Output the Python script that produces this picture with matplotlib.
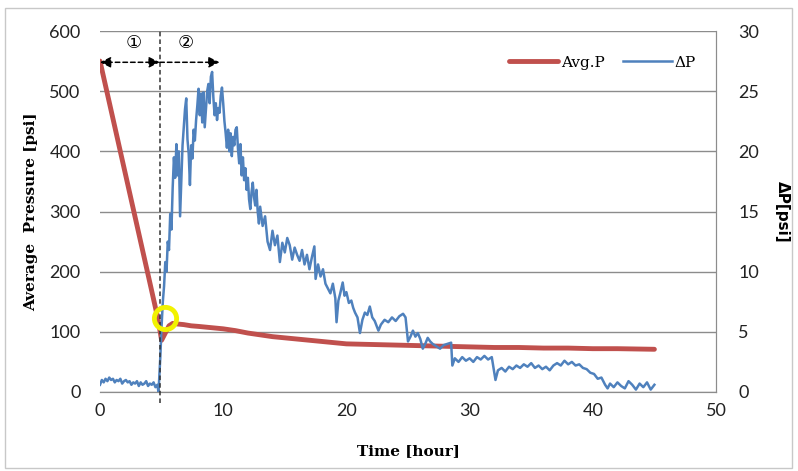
import matplotlib
matplotlib.use("Agg")
import matplotlib.pyplot as plt
from matplotlib.patches import Rectangle

# Average pressure (left axis, psi) vs time (hour)
avg_hours = [0.0, 1.0, 2.0, 3.0, 4.0, 4.7, 5.0, 5.3, 5.6, 5.9, 6.3, 6.8, 7.4, 8.0,
             9.0, 10.0, 11.0, 12.0, 13.0, 14.0, 15.0, 16.0, 17.0, 18.0, 19.0, 20.0,
             22.0, 24.0, 26.0, 28.0, 30.0, 32.0, 34.0, 36.0, 38.0, 40.0, 42.0, 45.0]
avg_p = [550, 459, 368, 277, 186, 122, 86, 98, 110, 114, 113, 112, 110, 109,
         107, 105, 102, 98, 95, 92, 90, 88, 86, 84, 82, 80,
         79, 78, 77, 76, 75, 74, 74, 73, 73, 72, 72, 71]

# Differential pressure (right axis, psi) vs time (hour)
dp_hours = [0.00, 0.15, 0.30, 0.45, 0.60, 0.75, 0.90, 1.05, 1.20, 1.35, 1.50, 1.65,
            1.80, 1.95, 2.10, 2.25, 2.40, 2.55, 2.70, 2.85, 3.00, 3.15, 3.30, 3.45,
            3.60, 3.75, 3.90, 4.05, 4.20, 4.35, 4.50, 4.65, 4.75,
            4.90, 5.00, 5.10, 5.20, 5.30, 5.40, 5.50, 5.60, 5.70, 5.80, 5.90, 6.00,
            6.10, 6.20, 6.30, 6.40, 6.50, 6.60, 6.70, 6.80, 6.90, 7.00, 7.10, 7.20,
            7.30, 7.40, 7.50, 7.60, 7.70, 7.80, 7.90, 8.00, 8.10, 8.20, 8.30, 8.40,
            8.50, 8.60, 8.70, 8.80, 8.90, 9.00, 9.10, 9.20, 9.30, 9.40, 9.50, 9.60,
            9.70, 9.80, 9.90, 10.00, 10.10, 10.20, 10.30, 10.40, 10.50, 10.60, 10.70,
            10.80, 10.90, 11.00, 11.10, 11.20, 11.30, 11.40, 11.50, 11.60, 11.70,
            11.80, 11.90, 12.00, 12.10, 12.20, 12.30, 12.40, 12.50, 12.60, 12.70,
            12.80, 12.90, 13.00, 13.20, 13.40, 13.60, 13.80, 14.00, 14.20, 14.40,
            14.60, 14.80, 15.00, 15.20, 15.40, 15.60, 15.80, 16.00, 16.20, 16.40,
            16.60, 16.80, 17.00, 17.20, 17.40, 17.50, 17.70, 17.90, 18.10, 18.30,
            18.50, 18.70, 18.90, 19.10, 19.20, 19.35, 19.50, 19.70, 19.85, 20.00,
            20.20, 20.40, 20.55, 20.70, 20.90, 21.10, 21.30, 21.50, 21.70, 21.90, 22.10,
            22.30, 22.60, 22.80, 23.10, 23.40, 23.70, 24.00, 24.30, 24.60, 24.80,
            25.00, 25.20, 25.40, 25.60, 25.80, 26.00, 26.20, 26.40, 26.60, 26.80,
            27.00, 27.30, 27.60, 27.90, 28.20, 28.50, 28.60, 28.80, 29.10, 29.40,
            29.70, 30.00, 30.30, 30.60, 30.90, 31.20, 31.50, 31.80, 32.10, 32.30,
            32.60, 32.90, 33.20, 33.50, 33.80, 34.10, 34.40, 34.70, 35.00, 35.30,
            35.60, 35.90, 36.20, 36.50, 36.80, 37.10, 37.40, 37.70, 38.00, 38.30,
            38.60, 38.90, 39.20, 39.50, 39.80, 40.10, 40.40, 40.70, 41.00, 41.20,
            41.40, 41.70, 42.00, 42.30, 42.60, 42.90, 43.20, 43.50, 43.80, 44.10,
            44.40, 44.70, 45.00]
dp_psi = [0.6, 1.0, 0.8, 1.1, 0.9, 1.2, 1.0, 1.1, 0.8, 1.0, 0.9, 1.1,
          0.7, 0.9, 1.0, 0.8, 0.9, 0.6, 0.8, 0.7, 0.9, 0.5, 0.8, 0.6,
          0.7, 0.9, 0.5, 0.7, 0.6, 0.8, 0.4, 0.6, 0.0,
          3.0, 5.5, 7.5, 8.8, 10.8, 10.0, 12.5, 11.8, 14.8, 13.5, 17.0, 19.5,
          17.8, 20.6, 18.0, 20.0, 14.6, 17.5, 20.5, 22.0, 23.5, 24.4, 21.0, 19.8,
          17.2, 20.5, 19.4, 21.8, 20.9, 22.6, 23.8, 25.2, 23.0, 24.8, 22.4, 24.9,
          22.0, 23.5, 25.0, 25.6, 24.0, 26.2, 26.6, 24.5, 23.0, 24.0, 22.6, 23.6,
          23.2, 24.6, 25.3, 24.0, 22.5, 21.5, 20.3, 21.8, 20.0, 21.5, 19.6,
          21.2, 20.5, 21.8, 22.0, 20.2, 19.0, 20.6, 18.0, 19.5, 17.6,
          18.6, 16.8, 17.8, 16.0, 15.2, 16.6, 17.4, 16.2, 15.5, 16.8,
          15.0, 14.0, 15.4, 13.8, 14.6, 12.5, 11.8, 13.4, 12.2, 13.0,
          10.8, 12.4, 11.6, 12.8, 12.2, 11.0, 12.0, 11.4, 10.9, 11.8,
          10.6, 11.4, 10.2, 11.2, 12.1, 9.4, 10.6, 9.6, 10.2, 9.0,
          8.6, 8.2, 9.0, 7.8, 5.8, 7.6, 8.2, 9.1, 8.0, 8.3,
          7.4, 7.6, 7.0, 6.6, 6.2, 4.9, 6.0, 6.6, 6.4, 7.1, 6.2,
          5.9, 5.1, 5.6, 6.0, 5.8, 6.2, 5.9, 6.3, 6.5, 6.2,
          4.2, 4.6, 5.1, 4.6, 4.9, 4.4, 3.6, 4.0, 4.5, 4.2,
          4.0, 3.8, 3.6, 3.9, 4.0, 4.1, 2.2, 2.8, 2.5, 2.9,
          2.6, 2.8, 2.5, 2.9, 2.7, 3.0, 2.7, 2.9, 1.0, 1.8,
          2.0, 1.7, 2.1, 1.9, 2.2, 2.0, 2.3, 2.1, 2.4, 2.0,
          2.2, 1.9, 2.1, 1.8, 2.2, 2.4, 2.2, 2.6, 2.3, 2.5,
          2.2, 2.3, 2.0, 1.9, 1.6, 1.5, 1.1, 1.2, 0.6, 0.3,
          0.7, 0.4, 0.8, 0.5, 0.3, 0.9, 0.6, 0.2, 0.7, 0.4,
          0.8, 0.2, 0.6]

# Stage boundary and marked point
stage_split = 4.85
stage2_end = 9.7
marker_hour, marker_p = 5.28, 123

x_ticks = [0, 10, 20, 30, 40, 50]
left_ticks = [0, 100, 200, 300, 400, 500, 600]
right_ticks = [0, 5, 10, 15, 20, 25, 30]

RED = "#c0504d"
BLUE = "#4f81bd"
GRID = "#8c8c8c"
TICK_FONT = "Lato"
SERIF = "DejaVu Serif"

fig = plt.figure(figsize=(7.98, 4.71), dpi=100)
fig.patches.append(Rectangle((5 / 798, 3 / 471), 787 / 798, 460 / 471,
                             transform=fig.transFigure, fill=False,
                             edgecolor="#c8c8c8", linewidth=1.0))

ax = fig.add_axes([100 / 798, 1 - 392 / 471, 616 / 798, 361 / 471])
ax2 = ax.twinx()

ax.set_xlim(0, 50)
ax.set_ylim(0, 600)
ax2.set_ylim(0, 30)
ax.set_xticks(x_ticks)
ax.set_yticks(left_ticks)
ax2.set_yticks(right_ticks)

ax.grid(axis="y", color=GRID, linewidth=1.0)
ax.set_axisbelow(True)
for a in (ax, ax2):
    for side in ("top", "left"):
        a.spines[side].set_visible(False)
    a.spines["bottom"].set_color(GRID)
    a.spines["right"].set_color(GRID)
    a.tick_params(length=0, labelsize=13, colors="#222222", pad=8)
    for lbl in a.get_xticklabels() + a.get_yticklabels():
        lbl.set_fontfamily(TICK_FONT)
ax.tick_params(axis="y", pad=14)
ax2.tick_params(axis="y", pad=16)

l_avg, = ax.plot(avg_hours, avg_p, color=RED, linewidth=3.5, label="Avg.P",
                 solid_capstyle="round", zorder=3)
l_dp, = ax2.plot(dp_hours, dp_psi, color=BLUE, linewidth=1.8, label="ΔP", zorder=3)

# stage boundary (in pressure coordinates)
pdata = ax.transData
ax2.plot([stage_split, stage_split], [-18, 600], transform=pdata, color="#333333",
         linestyle=(0, (3, 2)), linewidth=1.1, clip_on=False, zorder=4)

# stage arrows
arrow_y = 548
arrow_kw = dict(color="black", linestyle=(0, (3, 2)), linewidth=1.1,
                mutation_scale=16, shrinkA=0, shrinkB=0)
ax2.annotate("", xy=(0, arrow_y), xytext=(stage_split, arrow_y),
             xycoords=pdata, textcoords=pdata,
             arrowprops=dict(arrowstyle="<|-|>", **arrow_kw), zorder=5)
ax2.annotate("", xy=(stage2_end, arrow_y), xytext=(stage_split, arrow_y),
             xycoords=pdata, textcoords=pdata,
             arrowprops=dict(arrowstyle="-|>", **arrow_kw), zorder=5)
circ_font = ["DejaVu Sans", "Noto Sans CJK JP"]
ax2.text(stage_split / 2 + 0.3, 580, "①", transform=pdata, ha="center", va="center",
         fontsize=13, family=circ_font)
ax2.text((stage_split + stage2_end) / 2 - 0.3, 580, "②", transform=pdata,
         ha="center", va="center", fontsize=13, family=circ_font)

# highlighted point
ax2.plot([marker_hour], [marker_p], transform=pdata, marker="o", markersize=16,
         markerfacecolor="none", markeredgecolor="#f2f200", markeredgewidth=3.5,
         zorder=6)

ax.set_xlabel("Time [hour]", fontsize=11, fontweight="bold", family=SERIF, labelpad=18)
ax.set_ylabel("Average  Pressure [psi]", fontsize=11, fontweight="bold", family=SERIF,
              labelpad=8)
ax2.set_ylabel("ΔP[psi]", fontsize=11, fontweight="bold", family="DejaVu Sans",
               rotation=270, labelpad=22)

ax2.legend(handles=[l_avg, l_dp], loc="upper right", bbox_to_anchor=(0.99, 0.97),
           ncol=2, frameon=False, prop={"family": SERIF, "size": 11},
           handlelength=3.2, handletextpad=0.2, columnspacing=1.2)

fig.savefig("out.png", dpi=100)
